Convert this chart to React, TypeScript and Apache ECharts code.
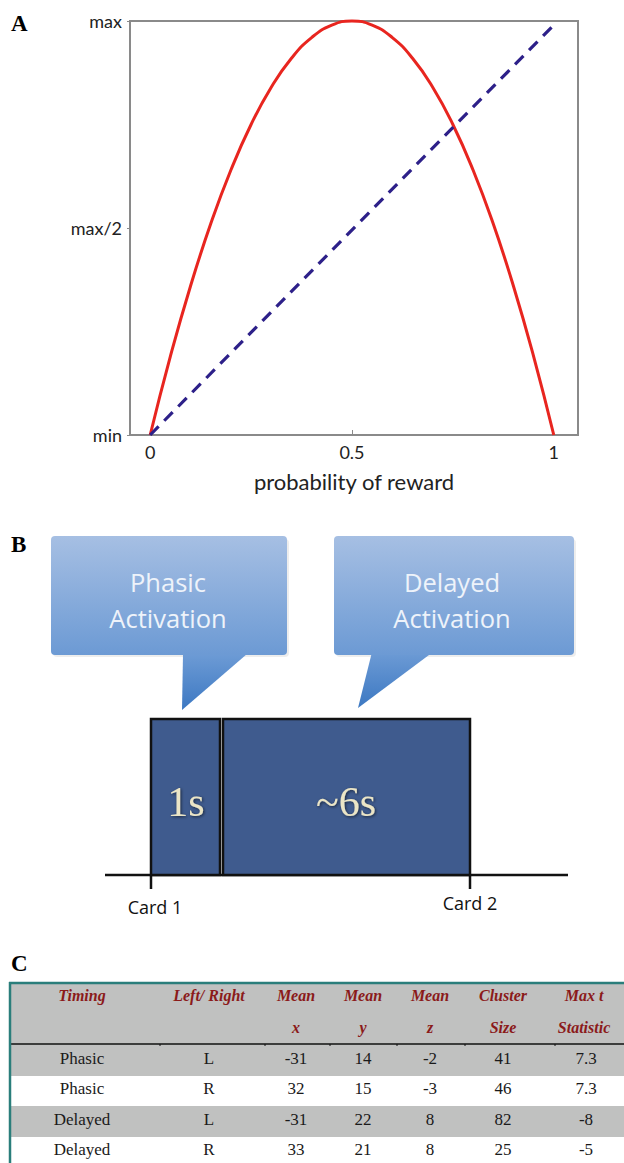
import React, { useEffect, useRef } from "react";
import * as echarts from "echarts";

// Panel A data
const probability = [0, 0.05, 0.1, 0.15, 0.2, 0.25, 0.3, 0.35, 0.4, 0.45, 0.5, 0.55, 0.6, 0.65, 0.7, 0.75, 0.8, 0.85, 0.9, 0.95, 1];
const uncertaintyValues = [0, 0.19, 0.36, 0.51, 0.64, 0.75, 0.84, 0.91, 0.96, 0.99, 1, 0.99, 0.96, 0.91, 0.84, 0.75, 0.64, 0.51, 0.36, 0.19, 0];
const linearX = [0, 1];
const linearY = [0, 0.99];
const xTickValues = [0, 0.5, 1];
const xTickLabels = ["0", "0.5", "1"];
const yTickValues = [0, 0.5, 1];
const yTickLabels = ["min", "max/2", "max"];
const xAxisName = "probability of reward";

// Panel B texts
const calloutTexts = [["Phasic", "Activation"], ["Delayed", "Activation"]];
const periodLabels = ["1s", "~6s"];
const cardLabels = ["Card 1", "Card 2"];

// Panel C table
const headerLine1 = ["Timing", "Left/ Right", "Mean", "Mean", "Mean", "Cluster", "Max t"];
const headerLine2 = ["", "", "x", "y", "z", "Size", "Statistic"];
const timing = ["Phasic", "Phasic", "Delayed", "Delayed"];
const side = ["L", "R", "L", "R"];
const meanX = [-31, 32, -31, 33];
const meanY = [14, 15, 22, 21];
const meanZ = [-2, -3, 8, 8];
const clusterSize = [41, 46, 82, 25];
const maxT = [7.3, 7.3, -8, -5];

export default function App() {
  const ref = useRef<HTMLDivElement>(null);
  useEffect(() => {
    const chart = echarts.init(ref.current!, null, { renderer: "svg" });

    const g: any[] = [];
    const panelLabel = (t: string, x: number, y: number) =>
      g.push({
        type: "text",
        x,
        y,
        style: { text: t, fill: "#000", font: "bold 23px 'Liberation Serif', serif", textAlign: "left", textVerticalAlign: "middle" },
      });
    panelLabel("A", 11, 23);
    panelLabel("B", 11, 544);
    panelLabel("C", 11, 963);

    // Callouts
    const callouts = [
      { x1: 51, x2: 287, tail: [[183, 654], [247, 654], [182, 710]], cx: 168 },
      { x1: 334, x2: 574, tail: [[372, 652], [433, 652], [358, 708]], cx: 452 },
    ];
    callouts.forEach((c, i) => {
      g.push({
        type: "rect",
        shape: { x: c.x1 + 2, y: 539, width: c.x2 - c.x1, height: 118, r: 4 },
        style: { fill: "rgba(0,0,0,0.07)" },
      });
      g.push({
        type: "polygon",
        shape: { points: c.tail },
        style: {
          fill: new echarts.graphic.LinearGradient(0, 0, 0, 1, [
            { offset: 0, color: "#6d9bd5" },
            { offset: 1, color: "#3c78c2" },
          ]),
        },
      });
      g.push({
        type: "rect",
        shape: { x: c.x1, y: 536, width: c.x2 - c.x1, height: 119, r: 4 },
        style: {
          fill: new echarts.graphic.LinearGradient(0, 0, 0, 1, [
            { offset: 0, color: "#a6bfe3" },
            { offset: 1, color: "#6c9ad4" },
          ]),
        },
      });
      calloutTexts[i].forEach((t, j) =>
        g.push({
          type: "text",
          x: c.cx,
          y: 582 + j * 36,
          style: { text: t, fill: "#eef3fa", font: "25.5px 'Open Sans', sans-serif", textAlign: "center", textVerticalAlign: "middle" },
        })
      );
    });

    // Timeline
    g.push({ type: "line", shape: { x1: 105, y1: 875, x2: 568, y2: 875 }, style: { stroke: "#111", lineWidth: 2.5 } });
    g.push({ type: "line", shape: { x1: 151, y1: 875, x2: 151, y2: 889 }, style: { stroke: "#111", lineWidth: 2.5 } });
    g.push({ type: "line", shape: { x1: 470, y1: 875, x2: 470, y2: 889 }, style: { stroke: "#111", lineWidth: 2.5 } });
    g.push({ type: "rect", shape: { x: 151, y: 719, width: 69, height: 156 }, style: { fill: "#3f5b8e", stroke: "#111", lineWidth: 2.5 } });
    g.push({ type: "rect", shape: { x: 223, y: 719, width: 247, height: 156 }, style: { fill: "#3f5b8e", stroke: "#111", lineWidth: 2.5 } });
    [186, 346].forEach((cx, i) =>
      g.push({
        type: "text",
        x: cx,
        y: 802,
        style: {
          text: periodLabels[i],
          fill: "#ebe5c6",
          font: "42px 'Liberation Serif', serif",
          textAlign: "center",
          textVerticalAlign: "middle",
          textShadowColor: "rgba(0,0,0,0.6)",
          textShadowBlur: 3,
          textShadowOffsetX: 1,
          textShadowOffsetY: 1,
        },
      })
    );
    [[155, 907], [470, 903]].forEach((p, i) =>
      g.push({
        type: "text",
        x: p[0],
        y: p[1],
        style: { text: cardLabels[i], fill: "#111", font: "18px 'Open Sans', sans-serif", textAlign: "center", textVerticalAlign: "middle" },
      })
    );

    // Table
    const colX = [82, 209, 296, 363, 430, 503, 584];
    g.push({ type: "rect", shape: { x: 10, y: 983, width: 614, height: 61 }, style: { fill: "#c0c1c0" } });
    const rowTops = [1044, 1076, 1106, 1137];
    const rowH = [32, 30, 31, 26];
    rowTops.forEach((t, i) =>
      g.push({ type: "rect", shape: { x: 10, y: t, width: 614, height: rowH[i] }, style: { fill: i % 2 === 0 ? "#c0c1c0" : "#ffffff" } })
    );
    g.push({ type: "line", shape: { x1: 10, y1: 1044, x2: 624, y2: 1044 }, style: { stroke: "#111", lineWidth: 1.5 } });
    [160, 265, 330, 397, 465, 555].forEach((x) =>
      g.push({ type: "line", shape: { x1: x, y1: 1044, x2: x, y2: 1046 }, style: { stroke: "#111", lineWidth: 1 } })
    );
    g.push({ type: "line", shape: { x1: 9, y1: 983, x2: 624, y2: 983 }, style: { stroke: "#2a7e7b", lineWidth: 2.5 } });
    g.push({ type: "line", shape: { x1: 10, y1: 982, x2: 10, y2: 1163 }, style: { stroke: "#2a7e7b", lineWidth: 2.5 } });
    const headerStyle = "italic bold 16px 'Liberation Serif', serif";
    headerLine1.forEach((t, i) =>
      g.push({ type: "text", x: colX[i], y: 995, style: { text: t, fill: "#8b1a1a", font: headerStyle, textAlign: "center", textVerticalAlign: "middle" } })
    );
    headerLine2.forEach((t, i) => {
      if (t)
        g.push({ type: "text", x: colX[i], y: 1027, style: { text: t, fill: "#8b1a1a", font: headerStyle, textAlign: "center", textVerticalAlign: "middle" } });
    });
    const rowY = [1058, 1088, 1119, 1149];
    timing.forEach((_, r) => {
      const cells = [timing[r], side[r], String(meanX[r]), String(meanY[r]), String(meanZ[r]), String(clusterSize[r]), String(maxT[r])];
      cells.forEach((t, i) =>
        g.push({
          type: "text",
          x: colX[i] + (i === 6 ? 2 : 0),
          y: rowY[r],
          style: { text: t, fill: "#1a1a1a", font: "17px 'Liberation Serif', serif", textAlign: "center", textVerticalAlign: "middle" },
        })
      );
    });

    const option: any = {
      animation: false,
      backgroundColor: "#ffffff",
      grid: { left: 130, top: 21, width: 448, height: 414, show: true, borderColor: "#8a8a8a", borderWidth: 2, backgroundColor: "transparent" },
      xAxis: {
        type: "value",
        min: -0.05,
        max: 1.06,
        name: xAxisName,
        nameLocation: "middle",
        nameGap: 35,
        nameTextStyle: { fontSize: 22, color: "#222", fontFamily: "Lato" },
        axisLine: { onZero: false, lineStyle: { color: "#8a8a8a", width: 2 } },
        axisTick: { inside: true, length: 5, customValues: [0.5], lineStyle: { color: "#8a8a8a" } },
        axisLabel: {
          customValues: xTickValues,
          formatter: (v: number) => xTickLabels[xTickValues.indexOf(v)] ?? "",
          fontSize: 18,
          color: "#222",
          fontFamily: "Lato",
          margin: 8,
        },
        splitLine: { show: false },
      },
      yAxis: {
        type: "value",
        min: 0,
        max: 1,
        interval: 0.5,
        axisLine: { show: true, onZero: false, lineStyle: { color: "#8a8a8a", width: 2 } },
        axisTick: { show: true, length: 3, lineStyle: { color: "#8a8a8a" } },
        axisLabel: {
          formatter: (v: number) => yTickLabels[yTickValues.indexOf(v)] ?? "",
          fontSize: 18,
          color: "#222",
          fontFamily: "Lato",
          margin: 8,
        },
        splitLine: { show: false },
      },
      series: [
        {
          type: "line",
          data: probability.map((p, i) => [p, uncertaintyValues[i]]),
          smooth: true,
          showSymbol: false,
          clip: false,
          lineStyle: { color: "#e8251f", width: 3 },
          z: 2,
        },
        {
          type: "line",
          data: linearX.map((p, i) => [p, linearY[i]]),
          showSymbol: false,
          clip: false,
          lineStyle: { color: "#2d2089", width: 3.2, type: [12, 8] },
          z: 3,
        },
      ],
      graphic: g,
    };
    chart.setOption(option);
    return () => chart.dispose();
  }, []);
  return <div ref={ref} style={{ position: "absolute", left: 0, top: 0, width: 624, height: 1163 }} />;
}
